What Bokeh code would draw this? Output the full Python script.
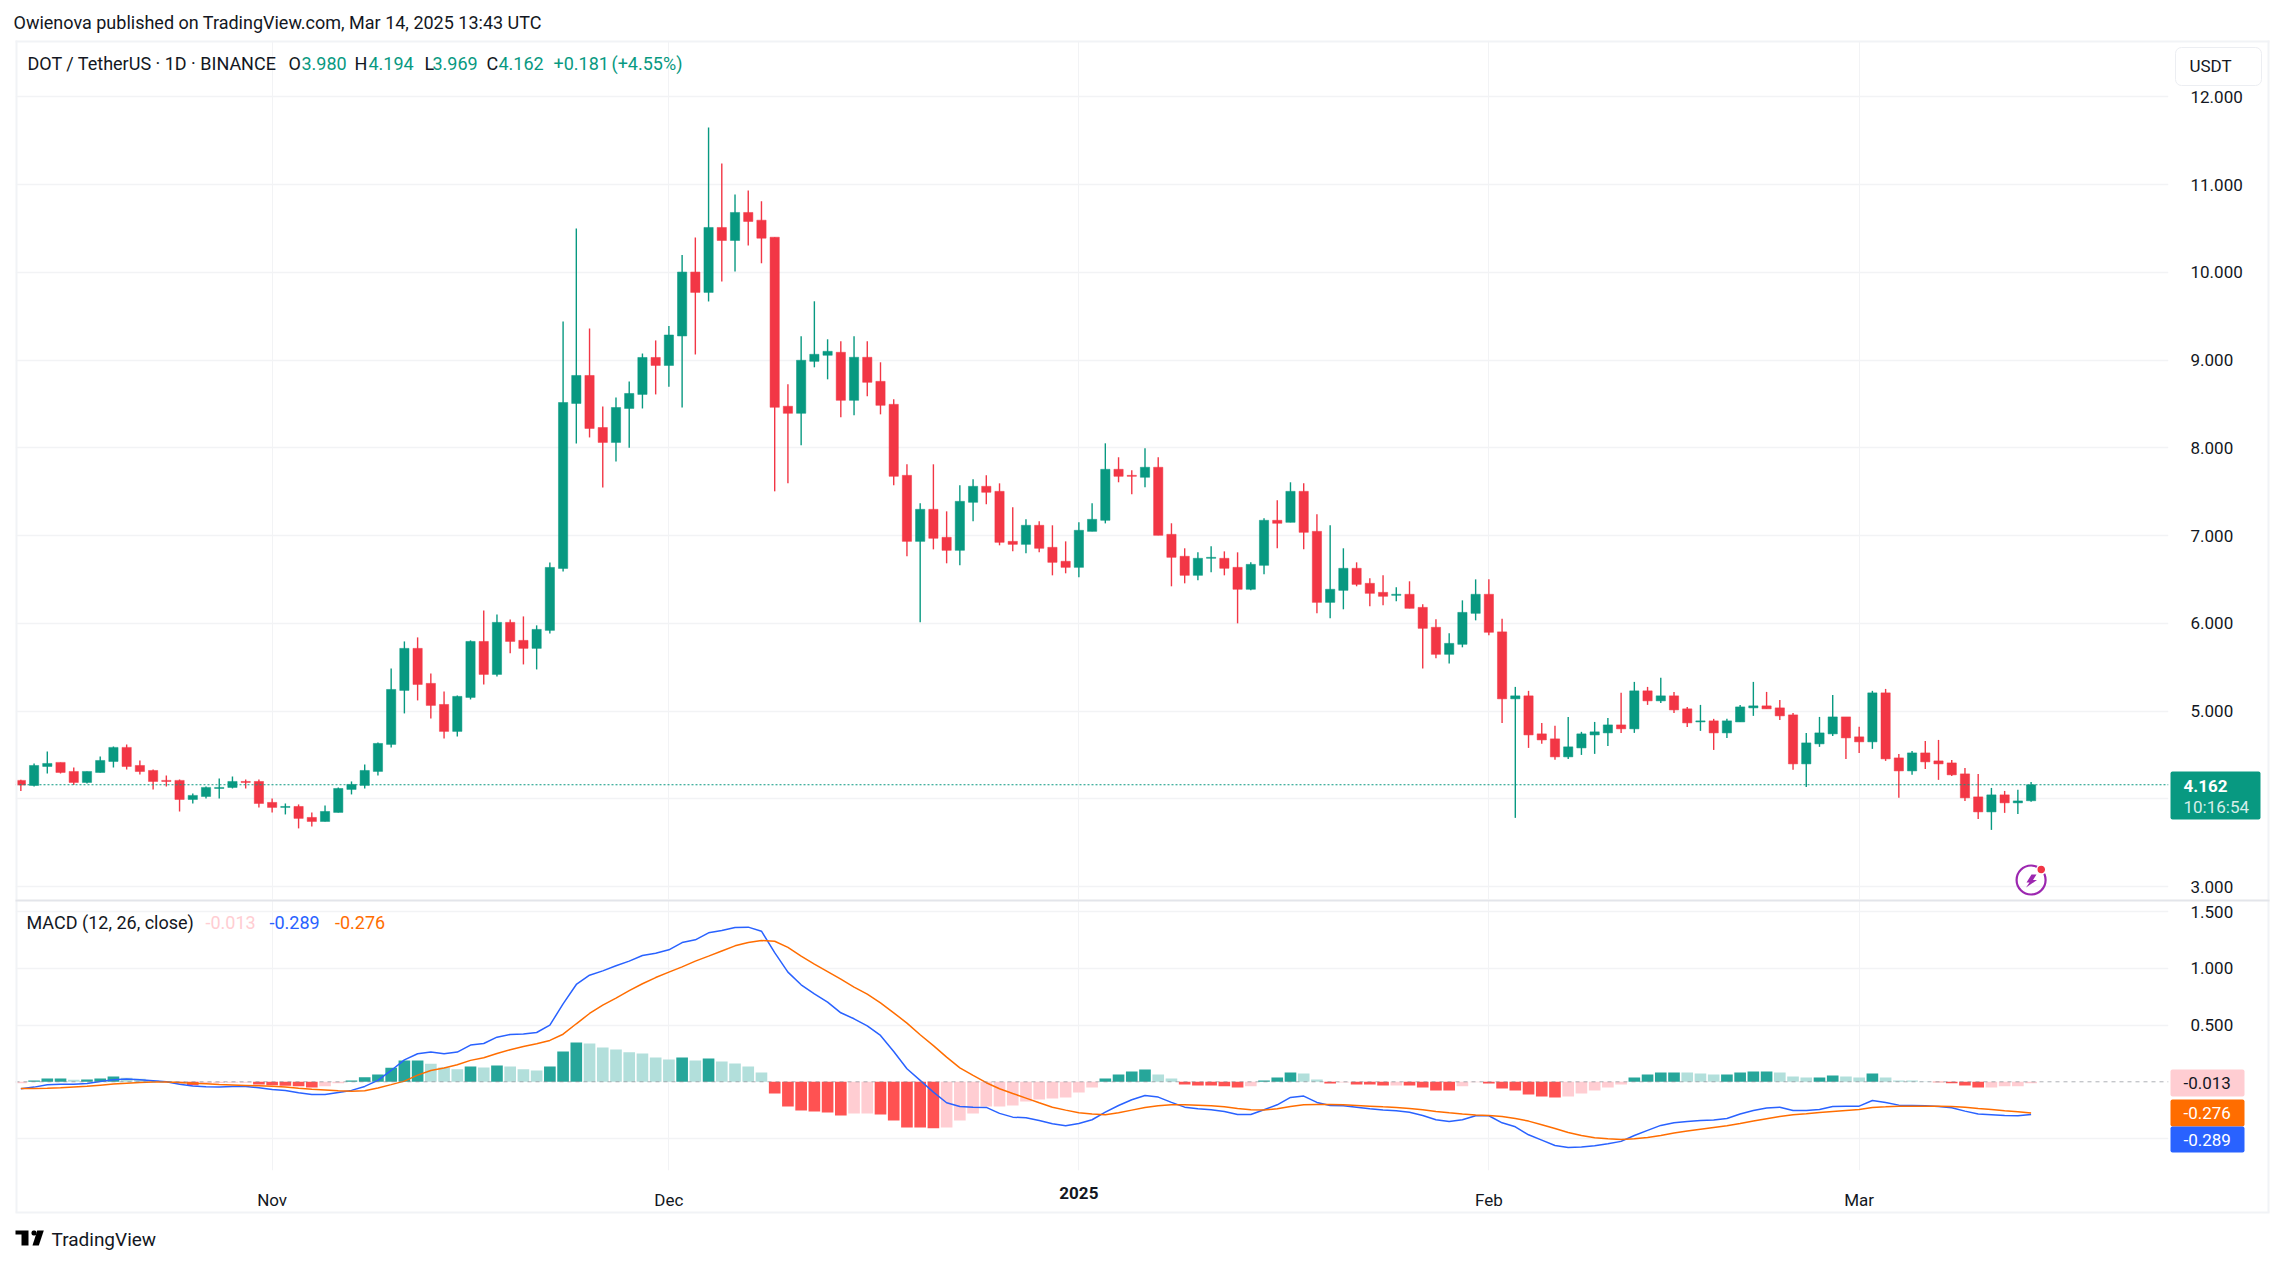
import pandas as pd
from bokeh.plotting import figure
from bokeh.layouts import column
from bokeh.embed import file_html
from bokeh.resources import INLINE
from bokeh.models import (Label, BoxAnnotation, PolyAnnotation, Span, FixedTicker,
                          NumeralTickFormatter, Range1d, ColumnDataSource)

start_date = "2024-10-13"
month_dates = ["2024-11-01", "2024-12-01", "2025-02-01", "2025-03-01"]
month_labels = ["Nov", "Dec", "Feb", "Mar"]
year_date = "2025-01-01"
year_label = "2025"
price_ticks = [3, 4, 5, 6, 7, 8, 9, 10, 11, 12]
macd_labelled_ticks = [0.5, 1.0, 1.5]
macd_grid_ticks = [-0.5, 0.5, 1.0, 1.5]

opens = [4.212,4.155,4.371,4.417,4.314,4.189,4.303,4.428,4.588,4.382,4.325,4.212,4.212,3.995,4.029,4.12,4.132,4.2,4.2,3.961,
3.904,3.915,3.79,3.744,3.847,4.109,4.155,4.314,4.622,5.237,5.716,5.317,5.077,4.77,5.157,5.795,5.419,6.012,5.807,5.716,
5.921,6.627,8.506,8.825,8.232,8.062,8.449,8.609,9.03,8.939,9.275,10.003,9.771,10.511,10.363,10.682,10.594,10.4,8.474,8.394,
8.986,9.055,9.089,8.542,9.032,8.758,8.496,7.687,6.935,7.3,6.981,6.833,7.38,7.562,7.505,6.935,6.901,7.118,6.867,6.708,
6.639,7.049,7.175,7.756,7.687,7.665,7.779,7.015,6.765,6.548,6.742,6.742,6.639,6.389,6.662,7.175,7.152,7.505,7.049,6.24,
6.377,6.628,6.457,6.354,6.32,6.332,6.183,5.956,5.648,5.762,6.115,6.332,5.904,5.141,5.175,4.742,4.685,4.48,4.582,4.73,
4.753,4.844,4.799,5.232,5.118,5.175,5.027,4.878,4.89,4.753,4.878,5.038,5.061,5.038,4.958,4.4,4.628,4.742,4.935,4.708,
4.651,5.209,4.468,4.32,4.525,4.434,4.411,4.286,4.024,3.853,4.047,3.956,3.98]
highs = [4.22,4.405,4.542,4.417,4.36,4.314,4.485,4.599,4.622,4.439,4.337,4.268,4.223,4.063,4.143,4.234,4.257,4.223,4.223,4.006,
3.949,3.938,3.847,3.927,4.132,4.2,4.394,4.645,5.488,5.795,5.841,5.431,5.226,5.18,5.807,6.148,6.103,6.046,6.08,5.978,
6.695,9.44,10.5,9.36,8.472,8.574,8.757,9.075,9.224,9.388,10.197,10.397,11.651,11.24,10.887,10.933,10.81,10.4,8.724,9.271,
9.67,9.237,9.214,9.271,9.214,8.975,8.553,7.813,7.368,7.813,7.277,7.573,7.642,7.687,7.596,7.323,7.186,7.163,7.118,6.935,
7.152,7.368,8.052,7.893,7.744,7.995,7.893,7.141,6.856,6.81,6.878,6.821,6.81,6.696,7.197,7.403,7.608,7.596,7.243,7.118,
6.856,6.696,6.514,6.548,6.411,6.48,6.218,6.047,5.887,6.263,6.502,6.502,6.052,5.277,5.232,4.867,4.833,4.935,4.765,4.878,
4.924,5.209,5.334,5.277,5.38,5.22,5.049,5.072,4.913,4.913,5.072,5.334,5.22,5.129,4.981,4.753,4.935,5.186,4.935,4.822,
5.232,5.254,4.514,4.548,4.662,4.673,4.445,4.354,4.286,4.126,4.092,4.104,4.194]
lows = [4.09,4.143,4.291,4.291,4.158,4.177,4.303,4.36,4.337,4.28,4.109,4.143,3.858,3.949,4.006,4.006,4.12,4.12,3.904,3.847,
3.824,3.665,3.687,3.744,3.847,4.052,4.12,4.268,4.588,4.975,5.123,4.918,4.69,4.713,5.134,5.305,5.396,5.659,5.533,5.476,
5.886,6.593,8.05,8.119,7.55,7.846,8.002,8.449,8.609,8.697,8.46,9.064,9.668,9.896,10.01,10.306,10.103,7.505,7.596,8.029,
8.918,8.781,8.348,8.371,8.588,8.382,7.573,6.765,6.013,6.844,6.685,6.662,7.163,7.357,6.89,6.821,6.799,6.81,6.548,6.571,
6.525,7.049,7.14,7.608,7.471,7.551,7.004,6.423,6.457,6.491,6.582,6.548,6.001,6.377,6.559,6.856,7.152,6.844,6.115,6.058,
6.161,6.423,6.195,6.206,6.252,6.172,5.488,5.602,5.545,5.728,6.035,5.864,4.867,3.785,4.582,4.628,4.446,4.457,4.502,4.514,
4.605,4.753,4.753,5.072,5.095,4.981,4.821,4.776,4.559,4.696,4.878,4.947,5.027,4.901,4.332,4.138,4.594,4.719,4.457,4.525,
4.571,4.434,4.013,4.275,4.343,4.218,4.263,3.978,3.773,3.648,3.842,3.83,3.969]
closes = [4.158,4.382,4.405,4.303,4.189,4.314,4.439,4.588,4.371,4.314,4.2,4.2,3.995,4.041,4.132,4.132,4.2,4.189,3.949,3.904,
3.915,3.779,3.744,3.858,4.12,4.166,4.325,4.633,5.248,5.716,5.305,5.066,4.77,5.169,5.795,5.419,6.012,5.795,5.716,5.932,
6.638,8.517,8.825,8.221,8.062,8.46,8.62,9.03,8.939,9.286,10.003,9.771,10.511,10.363,10.682,10.58,10.389,8.462,8.394,8.998,
9.066,9.1,8.542,9.032,8.747,8.485,7.676,6.935,7.3,6.97,6.833,7.391,7.562,7.494,6.924,6.901,7.118,6.856,6.696,6.639,
7.061,7.186,7.756,7.676,7.676,7.779,7.004,6.753,6.548,6.742,6.753,6.628,6.389,6.673,7.175,7.141,7.505,7.038,6.24,6.389,
6.628,6.445,6.343,6.309,6.332,6.172,5.944,5.648,5.773,6.126,6.332,5.899,5.141,5.175,4.73,4.673,4.48,4.594,4.742,4.765,
4.844,4.799,5.232,5.118,5.175,5.015,4.867,4.89,4.753,4.89,5.049,5.061,5.027,4.947,4.4,4.639,4.753,4.935,4.696,4.651,
5.209,4.457,4.32,4.525,4.423,4.4,4.275,4.013,3.853,4.047,3.956,3.978,4.162]

macd = [-.062,-.047,-.026,-.021,-.021,-.015,.003,.018,.024,.018,.009,0,-.021,-.038,-.044,-.047,-.041,-.041,-.053,-.068,
-.076,-.097,-.112,-.112,-.094,-.076,-.041,.012,.1,.194,.247,.262,.247,.262,.324,.338,.394,.418,.421,.435,
.5,.688,.859,.941,.979,1.024,1.065,1.115,1.135,1.165,1.229,1.253,1.315,1.335,1.362,1.365,1.329,1.14,.968,.856,
.776,.703,.609,.556,.494,.409,.268,.115,.012,-.091,-.185,-.218,-.224,-.226,-.279,-.312,-.318,-.341,-.371,-.388,
-.368,-.335,-.268,-.209,-.159,-.121,-.135,-.182,-.224,-.238,-.247,-.262,-.288,-.288,-.247,-.203,-.138,-.126,-.182,-.209,
-.212,-.224,-.238,-.25,-.256,-.268,-.297,-.335,-.35,-.335,-.3,-.3,-.362,-.397,-.468,-.515,-.562,-.579,-.576,-.565,
-.547,-.526,-.474,-.429,-.385,-.362,-.35,-.341,-.338,-.324,-.285,-.253,-.232,-.224,-.253,-.253,-.244,-.218,-.215,-.215,
-.165,-.182,-.206,-.209,-.212,-.218,-.229,-.259,-.285,-.291,-.297,-.3,-.289]
signal = [-.06,-.059,-.056,-.052,-.046,-.04,-.03,-.02,-.012,-.006,-.002,-.001,-.006,-.012,-.018,-.024,-.028,-.032,-.036,-.04,
-.046,-.056,-.065,-.072,-.08,-.083,-.08,-.055,-.025,.006,.059,.1,.121,.15,.189,.212,.25,.283,.311,.335,
.365,.42,.512,.603,.676,.739,.805,.865,.92,.968,1.014,1.065,1.109,1.155,1.2,1.23,1.247,1.24,1.186,1.109,
1.038,.973,.906,.836,.774,.697,.609,.518,.415,.319,.218,.123,.056,-.008,-.061,-.103,-.144,-.185,-.224,-.25,
-.274,-.285,-.29,-.274,-.25,-.226,-.212,-.203,-.203,-.206,-.212,-.221,-.235,-.247,-.25,-.238,-.218,-.203,-.2,-.2,
-.203,-.209,-.215,-.221,-.226,-.235,-.247,-.262,-.274,-.285,-.294,-.297,-.306,-.324,-.347,-.379,-.412,-.447,-.474,-.494,
-.503,-.509,-.503,-.491,-.474,-.453,-.435,-.418,-.403,-.388,-.368,-.347,-.326,-.306,-.291,-.282,-.271,-.262,-.253,-.244,
-.226,-.221,-.215,-.215,-.215,-.215,-.218,-.224,-.235,-.244,-.256,-.265,-.276]
hist = [-.012,.012,.03,.03,.018,.02,.03,.047,.035,.026,.012,.006,-.012,-.03,-.012,-.01,-.008,-.008,-.025,-.03,
-.035,-.04,-.05,-.04,-.012,.012,.04,.065,.125,.188,.188,.16,.126,.11,.135,.126,.144,.135,.11,.1,
.135,.268,.347,.338,.303,.285,.26,.25,.215,.197,.215,.188,.206,.18,.162,.135,.082,-.103,-.218,-.253,
-.262,-.27,-.297,-.28,-.28,-.288,-.341,-.403,-.403,-.41,-.403,-.341,-.28,-.218,-.218,-.209,-.174,-.156,-.147,-.138,
-.094,-.05,.03,.065,.091,.109,.065,.03,-.025,-.032,-.032,-.04,-.05,-.04,.012,.038,.082,.074,.02,-.015,
-.006,-.024,-.024,-.032,-.032,-.032,-.05,-.076,-.076,-.04,-.003,-.015,-.06,-.076,-.112,-.13,-.138,-.13,-.103,-.076,
-.05,-.024,.038,.065,.082,.082,.082,.074,.065,.065,.082,.091,.091,.082,.047,.038,.038,.056,.047,.038,
.074,.038,.012,.012,.003,-.003,-.012,-.032,-.05,-.05,-.04,-.04,-.013]
# column shade: 1 = strong (momentum growing), 0 = pale
hist_strong = [0,1,1,1,0,1,1,1,0,0,0,0,1,1,0,0,0,0,1,1,
1,1,1,0,0,1,1,1,1,1,1,0,0,0,1,0,1,0,0,0,
1,1,1,0,0,0,0,0,0,0,1,0,1,0,0,0,0,1,1,1,
1,1,1,0,0,1,1,1,1,1,0,0,0,0,0,0,0,0,0,0,
0,0,1,1,1,1,0,0,1,1,1,1,1,0,1,1,1,0,0,1,
0,1,1,1,0,1,1,1,1,0,0,1,1,1,1,1,1,0,0,0,
0,0,1,1,1,1,0,0,0,1,1,1,1,0,0,0,1,1,0,0,
1,0,0,0,0,1,1,1,1,0,0,0,0]

GREEN, RED = "#089981", "#F23645"
INK = "#131722"
GRID = "#f2f3f5"
BORDER = "#f1f3f6"
FONT = "Roboto"
FS = "17px"
HS = "18px"

dates = pd.date_range(start_date, periods=len(closes))
idx = list(range(len(closes)))
month_ticks = [int(dates.get_loc(pd.Timestamp(d))) for d in month_dates]
year_tick = int(dates.get_loc(pd.Timestamp(year_date)))
all_ticks = sorted(month_ticks + [year_tick])

W, H1, H2 = 2267, 891, 358
FL, FR = 7, 2160          # plot frame left / right on the canvas
X0, X1 = -0.405, 162.39
x_range = Range1d(X0, X1)
PER_PX = (X1 - X0) / (FR - FL)

# transparent sheet lying over both panes: page furniture that sits outside the plot frames
sheet = figure(width=W, height=H1 + H2, x_axis_location=None, y_axis_location=None,
               x_range=Range1d(X0 - FL * PER_PX, X1 + (W - FR) * PER_PX), y_range=Range1d(0, 1),
               output_backend="svg", toolbar_location=None, frame_align=False,
               min_border=0, min_border_left=0, min_border_right=0, min_border_top=0, min_border_bottom=0,
               background_fill_color=None, border_fill_color=None, outline_line_color=None,
               styles={"position": "absolute", "top": "0px", "left": "0px", "z-index": "5", "pointer-events": "none"})
sheet.grid.visible = False


def label(x, y, text, color=INK, size=HS, style="normal", align="left", x_units="canvas"):
    sheet.add_layout(Label(x=x, y=y, x_units=x_units, y_units="canvas", text=text, text_color=color,
                           text_font=FONT, text_font_size=size, text_font_style=style,
                           text_baseline="middle", text_align=align))


def box(l, r, t, b, color, radius=0, line=None):
    sheet.add_layout(BoxAnnotation(left=l, right=r, top=t, bottom=b, left_units="canvas",
                                   right_units="canvas", top_units="canvas", bottom_units="canvas",
                                   fill_color=color, fill_alpha=1, line_color=line, line_alpha=1 if line else 0,
                                   border_radius=radius, editable=False))


def poly(xs, ys, fill):
    sheet.add_layout(PolyAnnotation(xs=xs, ys=ys, xs_units="canvas", ys_units="canvas",
                                    fill_color=fill, fill_alpha=1, line_alpha=0, editable=False))


# ---------- price pane ----------
p = figure(width=W, height=H1, x_range=x_range, y_range=Range1d(2.855, 12.641),
           y_axis_location="right", x_axis_location=None, output_backend="svg", toolbar_location=None,
           min_border_left=FL, min_border_right=W - FR, min_border_top=32, min_border_bottom=0,
           background_fill_color="white", border_fill_color="white", outline_line_color=None)
p.yaxis.ticker = FixedTicker(ticks=price_ticks)
p.yaxis.formatter = NumeralTickFormatter(format="0.000")
p.yaxis.axis_line_color = None
p.yaxis.major_tick_line_color = None
p.yaxis.minor_tick_line_color = None
p.yaxis.major_label_standoff = 16
p.yaxis.major_label_text_font = FONT
p.yaxis.major_label_text_font_size = FS
p.yaxis.major_label_text_color = INK
p.ygrid.ticker = FixedTicker(ticks=price_ticks)
p.ygrid.grid_line_color = GRID
p.ygrid.grid_line_width = 1.5
p.xgrid.ticker = FixedTicker(ticks=all_ticks)
p.xgrid.grid_line_color = GRID
p.xgrid.grid_line_width = 1

colors = [GREEN if c >= o else RED for o, c in zip(opens, closes)]
src = ColumnDataSource(dict(x=idx, o=opens, h=highs, l=lows, c=closes, col=colors))
p.segment(x0="x", x1="x", y0="l", y1="h", color="col", line_width=1.4, source=src)
p.vbar(x="x", width=0.7, top="o", bottom="c", fill_color="col", line_color="col", line_width=0.5, source=src)
p.add_layout(Span(location=closes[-1], dimension="width", line_color=GREEN, line_dash="2 2", line_width=1.2))

# boost icon anchored on the last bar
p.scatter(x=[idx[-1]], y=[3.077], size=29, marker="circle", fill_alpha=0, line_color="#9c27b0", line_width=2.2)
p.scatter(x=[idx[-1] + 0.77], y=[3.197], size=9, marker="circle", fill_color="#f23645", line_color="white", line_width=1.5)
poly([2023, 2028, 2024.5, 2028.5, 2017.5, 2021, 2018],
     [866, 866, 871.5, 871.5, 879, 874, 874], "#9c27b0")

# price-pane furniture
box(7, 9, 32, 891, BORDER)
box(2259, 2261, 32, 891, BORDER)
box(7, 2261, 32, 34, BORDER)
label(5, 14, "Owienova published on TradingView.com, Mar 14, 2025 13:43 UTC")
label(19, 55, "DOT / TetherUS · 1D · BINANCE")
for xx, t in [(280, "O"), (346, "H"), (416, "L"), (478, "C")]:
    label(xx, 55, t)
for xx, t in [(293, "3.980"), (360, "4.194"), (424, "3.969"), (490, "4.162"),
              (545, "+0.181"), (603, "(+4.55%)")]:
    label(xx, 55, t, color=GREEN)
box(2167, 2253, 39, 77, "white", radius=6, line="#eceef2")
label(2202, 57, "USDT", align="center", size=FS)
box(2162, 2252, 763, 811, GREEN, radius=2)
label(2175, 777, f"{closes[-1]:.3f}", color="white", style="bold", size=FS)
label(2175, 798, "10:16:54", color="#d6eee9", size=FS)

# ---------- MACD pane ----------
q = figure(width=W, height=H2, x_range=x_range, y_range=Range1d(-0.783, 1.609),
           y_axis_location="right", output_backend="svg", toolbar_location=None,
           min_border_left=FL, min_border_right=W - FR, min_border_top=0, min_border_bottom=87,
           background_fill_color="white", border_fill_color="white", outline_line_color=None)
q.yaxis.ticker = FixedTicker(ticks=macd_labelled_ticks)
q.yaxis.formatter = NumeralTickFormatter(format="0.000")
q.yaxis.axis_line_color = None
q.yaxis.major_tick_line_color = None
q.yaxis.minor_tick_line_color = None
q.yaxis.major_label_standoff = 16
q.yaxis.major_label_text_font = FONT
q.yaxis.major_label_text_font_size = FS
q.yaxis.major_label_text_color = INK
q.ygrid.ticker = FixedTicker(ticks=macd_grid_ticks)
q.ygrid.grid_line_color = GRID
q.ygrid.grid_line_width = 1.5
q.xgrid.ticker = FixedTicker(ticks=all_ticks)
q.xgrid.grid_line_color = GRID
q.xgrid.grid_line_width = 1
q.xaxis.ticker = FixedTicker(ticks=month_ticks)
q.xaxis.major_label_overrides = dict(zip(month_ticks, month_labels))
q.xaxis.axis_line_color = None
q.xaxis.major_tick_line_color = None
q.xaxis.minor_tick_line_color = None
q.xaxis.major_label_standoff = 13
q.xaxis.major_label_text_font = FONT
q.xaxis.major_label_text_font_size = FS
q.xaxis.major_label_text_color = INK


def hist_color(v, s):
    if v >= 0:
        return "#26a69a" if s else "#b2dfdb"
    return "#ff5252" if s else "#ffcdd2"


hist_colors = [hist_color(v, s) for v, s in zip(hist, hist_strong)]
q.vbar(x=idx, width=0.88, top=hist, bottom=0, fill_color=hist_colors, line_color=None)
q.add_layout(Span(location=0, dimension="width", line_color="#787b86", line_alpha=0.6, line_dash="4 4", line_width=1))
q.line(idx, macd, line_color="#2962ff", line_width=1.5)
q.line(idx, signal, line_color="#ff6d00", line_width=1.5)

Q = H1
box(7, 9, Q, Q + 313, BORDER)
box(2259, 2261, Q, Q + 313, BORDER)
box(7, 2261, Q + 312, Q + 314, BORDER)
box(7, 2261, Q, Q + 2, "#e3e5ea")
label(18, Q + 23, "MACD (12, 26, close)")
label(197, Q + 23, f"{hist[-1]:.3f}", color="#ffcdd2")
label(261, Q + 23, f"{macd[-1]:.3f}", color="#2962ff")
label(326.5, Q + 23, f"{signal[-1]:.3f}", color="#ff6d00")
box(2162, 2236, Q + 170, Q + 197, "#ffcdd2", radius=2)
box(2162, 2236, Q + 200, Q + 227, "#ff6d00", radius=2)
box(2162, 2236, Q + 227, Q + 253, "#2962ff", radius=2)
label(2175, Q + 183, f"{hist[-1]:.3f}", color=INK, size=FS)
label(2175, Q + 213, f"{signal[-1]:.3f}", color="white", size=FS)
label(2175, Q + 240, f"{macd[-1]:.3f}", color="white", size=FS)
label(year_tick, Q + 293, year_label, style="bold", align="center", x_units="data", size=FS)

# TradingView mark
poly([7, 20, 20, 13, 13, 7], [Q + 331, Q + 331, Q + 346, Q + 346, Q + 335, Q + 335], "#000000")
poly([28.7, 35.3, 30.3, 24], [Q + 331, Q + 331, Q + 346, Q + 346], "#000000")
box(23, 28, Q + 331, Q + 336, "#000000", radius=2)
label(43, Q + 340, "TradingView", size="19px")

page = column(p, q, sheet, spacing=0, margin=(8, 0, 0, 8), styles={"position": "relative"})
open("out.html", "w").write(file_html(page, INLINE))
